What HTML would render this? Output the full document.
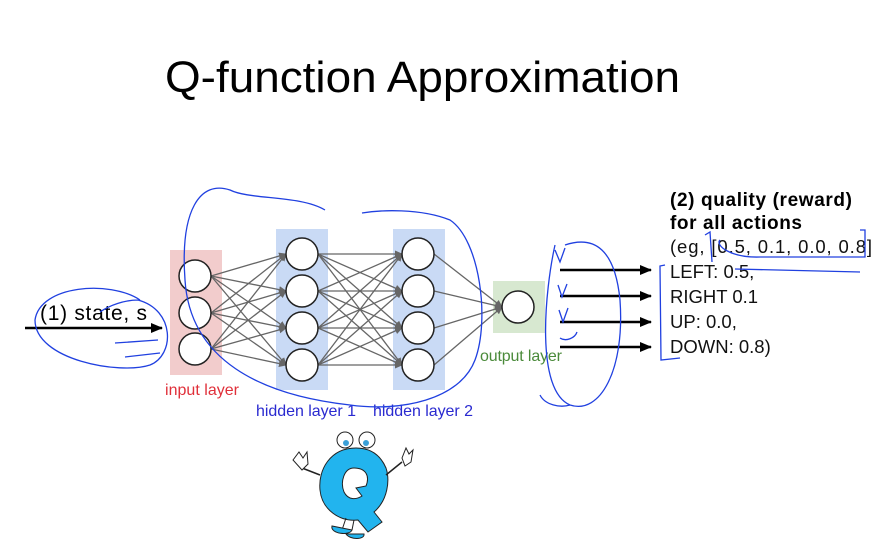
<!DOCTYPE html>
<html><head><style>
body{margin:0;background:#fff;width:878px;height:553px;overflow:hidden}
svg{display:block}
text{font-family:"Liberation Sans",sans-serif}
</style></head><body>
<svg width="878" height="553" viewBox="0 0 878 553">
<defs>
<marker id="g" markerWidth="8" markerHeight="8" refX="7" refY="4" orient="auto" markerUnits="userSpaceOnUse"><path d="M0,0.5 L8,4 L0,7.5z" fill="#666"/></marker>
<marker id="b" markerWidth="12" markerHeight="10" refX="11" refY="5" orient="auto" markerUnits="userSpaceOnUse"><path d="M0,0 L12,5 L0,10z" fill="#000"/></marker>
</defs>
<text x="165" y="92" font-size="44" fill="#000" textLength="515" lengthAdjust="spacingAndGlyphs">Q-function Approximation</text>
<rect x="170" y="250" width="52" height="125" fill="#f2cccc"/>
<rect x="276" y="229" width="52" height="161" fill="#c9daf5"/>
<rect x="393" y="229" width="52" height="161" fill="#c9daf5"/>
<rect x="493" y="281" width="52" height="52" fill="#d7e8d0"/>
<g stroke="#666" stroke-width="1.3" marker-end="url(#g)">
<line x1="211" y1="276" x2="286" y2="254"/><line x1="211" y1="276" x2="286" y2="291"/><line x1="211" y1="276" x2="286" y2="328"/><line x1="211" y1="276" x2="286" y2="365"/>
<line x1="211" y1="313" x2="286" y2="254"/><line x1="211" y1="313" x2="286" y2="291"/><line x1="211" y1="313" x2="286" y2="328"/><line x1="211" y1="313" x2="286" y2="365"/>
<line x1="211" y1="349" x2="286" y2="254"/><line x1="211" y1="349" x2="286" y2="291"/><line x1="211" y1="349" x2="286" y2="328"/><line x1="211" y1="349" x2="286" y2="365"/>
<line x1="318" y1="254" x2="402" y2="254"/><line x1="318" y1="254" x2="402" y2="291"/><line x1="318" y1="254" x2="402" y2="328"/><line x1="318" y1="254" x2="402" y2="365"/>
<line x1="318" y1="291" x2="402" y2="254"/><line x1="318" y1="291" x2="402" y2="291"/><line x1="318" y1="291" x2="402" y2="328"/><line x1="318" y1="291" x2="402" y2="365"/>
<line x1="318" y1="328" x2="402" y2="254"/><line x1="318" y1="328" x2="402" y2="291"/><line x1="318" y1="328" x2="402" y2="328"/><line x1="318" y1="328" x2="402" y2="365"/>
<line x1="318" y1="365" x2="402" y2="254"/><line x1="318" y1="365" x2="402" y2="291"/><line x1="318" y1="365" x2="402" y2="328"/><line x1="318" y1="365" x2="402" y2="365"/>
<line x1="434" y1="254" x2="502" y2="307"/><line x1="434" y1="291" x2="502" y2="307"/><line x1="434" y1="328" x2="502" y2="307"/><line x1="434" y1="365" x2="502" y2="307"/>
</g>
<g fill="#fff" stroke="#222" stroke-width="1.5">
<circle cx="195" cy="276" r="16"/><circle cx="195" cy="313" r="16"/><circle cx="195" cy="349" r="16"/>
<circle cx="302" cy="254" r="16"/><circle cx="302" cy="291" r="16"/><circle cx="302" cy="328" r="16"/><circle cx="302" cy="365" r="16"/>
<circle cx="418" cy="254" r="16"/><circle cx="418" cy="291" r="16"/><circle cx="418" cy="328" r="16"/><circle cx="418" cy="365" r="16"/>
<circle cx="518" cy="307" r="16"/>
</g>
<text x="165" y="395" font-size="16" fill="#e0303a" textLength="74">input layer</text>
<text x="256" y="416" font-size="16" fill="#2a2ad0" textLength="100">hidden layer 1</text>
<text x="373" y="416" font-size="16" fill="#2a2ad0" textLength="100">hidden layer 2</text>
<text x="480" y="361" font-size="16" fill="#4a8a3a" textLength="82">output layer</text>
<text x="40" y="320" font-size="21" fill="#000" textLength="107">(1) state, s</text>
<line x1="25" y1="328" x2="162" y2="328" stroke="#000" stroke-width="2.5" marker-end="url(#b)"/>
<g stroke="#000" stroke-width="2.5" marker-end="url(#b)">
<line x1="560" y1="270" x2="651" y2="270"/><line x1="560" y1="296" x2="651" y2="296"/><line x1="560" y1="322" x2="651" y2="322"/><line x1="560" y1="347" x2="651" y2="347"/>
</g>
<text x="670" y="206" font-size="19" font-weight="bold" textLength="182">(2) quality (reward)</text>
<text x="670" y="229" font-size="19" font-weight="bold" textLength="132">for all actions</text>
<g font-size="18.5" fill="#111">
<text x="670" y="253" textLength="202">(eg, [0.5, 0.1, 0.0, 0.8]</text>
<text x="670" y="278">LEFT: 0.5,</text>
<text x="670" y="303">RIGHT 0.1</text>
<text x="670" y="328">UP: 0.0,</text>
<text x="670" y="353">DOWN: 0.8)</text>
</g>
<g fill="none" stroke="#2040e0" stroke-width="1.3">
<path d="M140,300 C110,280 40,285 35,320 C35,360 120,375 150,365 C175,355 175,310 138,300 C125,300 110,305 100,312"/>
<path d="M115,343 L158,340 M125,357 L160,353"/>
<path d="M325,210 C300,195 250,200 230,190 C200,180 180,210 185,280 C190,360 260,395 350,405 C400,412 460,400 475,360 C490,320 480,240 450,220 C420,208 380,210 362,213"/>
<path d="M555,245 C545,290 535,390 570,405 C600,415 625,370 620,300 C615,250 595,235 565,245"/>
<path d="M540,395 C545,405 560,408 570,405"/>
<path d="M555,250 L560,262 L565,248 M558,285 L562,297 L567,284 M559,310 L563,322 L568,308 M560,338 C566,342 575,338 577,332"/>
<path d="M665,265 L660,266 L661,360 L680,358"/>
<path d="M705,235 L710,232 L712,262 M720,240 C715,245 730,258 760,257 L865,257 L865,230 L860,230 M735,269 L860,272"/>
</g>
<g transform="translate(290,430)">
<circle cx="55" cy="10" r="8" fill="#fff" stroke="#222"/><circle cx="77" cy="10" r="8" fill="#fff" stroke="#222"/>
<circle cx="56" cy="13" r="3" fill="#3aa0d8"/><circle cx="76" cy="13" r="3" fill="#3aa0d8"/>
<path d="M66,18 C40,18 28,40 30,60 C32,80 50,92 68,90 L78,102 L92,92 L84,82 C98,70 100,50 96,38 C90,24 80,18 66,18z M64,38 C54,38 50,52 54,62 C58,70 66,70 72,66 L66,58 L76,56 C80,46 76,38 64,38z" fill="#22b4ee" fill-rule="evenodd" stroke="#222"/>
<path d="M30,45 L12,38 M96,45 L112,32" stroke="#222" stroke-width="1.5"/>
<path d="M3,30 l6,-8 4,6 4,-6 1,12 -6,6z M112,28 l4,-10 3,6 4,-4 -2,12 -6,4z" fill="#fff" stroke="#222"/>
<path d="M56,88 L52,100 M64,90 L62,100" stroke="#222"/>
<path d="M42,96 C40,104 60,106 62,100z M56,104 C60,110 75,110 74,104z" fill="#22b4ee" stroke="#222"/>
</g>
</svg>
</body></html>
